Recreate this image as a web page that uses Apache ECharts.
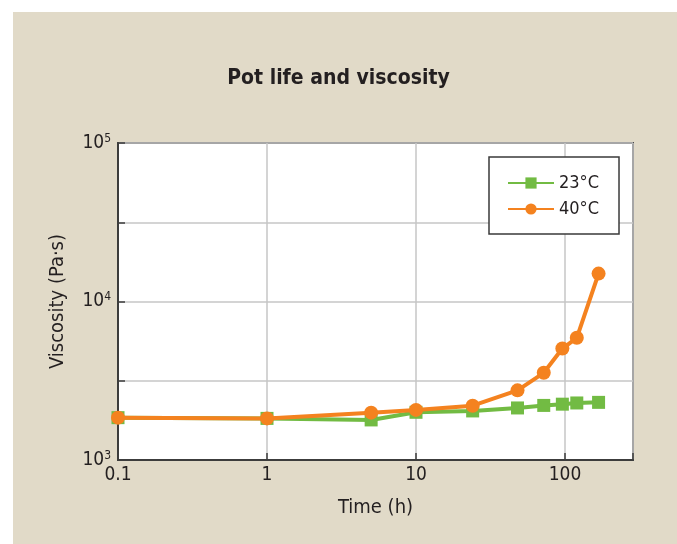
<!DOCTYPE html>
<html>
<head>
<meta charset="utf-8">
<style>
  html, body { margin: 0; padding: 0; background: #ffffff; }
  #chart { width: 677px; height: 544px; }
</style>
<script src="https://cdn.jsdelivr.net/npm/echarts@6/dist/echarts.min.js"></script>
</head>
<body>
<div id="chart"></div>
<script>
// Elapsed time in hours (first reading taken right after mixing)
const timeHours = [0.1, 1, 5, 10, 24, 48, 72, 96, 120, 168];
// Viscosity in Pa·s at each temperature
const visc23 = [1850, 1830, 1790, 2000, 2040, 2130, 2210, 2250, 2290, 2310];
const visc40 = [1850, 1830, 1990, 2070, 2200, 2750, 3550, 5050, 5900, 15000];
const seriesNames = ['23°C', '40°C'];
// Axis labels
const xTickLabels = ['0.1', '1', '10', '100'];
const yTickPowers = [3, 4, 5];

const FONT = '"DejaVu Sans Condensed", "Liberation Sans", sans-serif';
const GREEN = '#72bb43';
const ORANGE = '#f4821f';

function isPow10(v) {
  const e = Math.log10(v);
  return Math.abs(e - Math.round(e)) < 1e-6 ? Math.round(e) : null;
}

const chart = echarts.init(document.getElementById('chart'), null, { renderer: 'canvas' });

chart.setOption({
  backgroundColor: '#ffffff',
  animation: false,
  graphic: [{
    type: 'rect',
    z: -10,
    shape: { x: 13, y: 12, width: 677, height: 544 },
    style: { fill: '#e1dac8' }
  }],
  title: {
    text: 'Pot life and viscosity',
    left: 'center',
    top: 63,
    textStyle: { fontFamily: FONT, fontWeight: 'bold', fontSize: 21, color: '#231f20' }
  },
  legend: {
    orient: 'vertical',
    left: 489,
    top: 157,
    padding: [17, 20, 16, 18],
    itemWidth: 46,
    itemHeight: 14,
    itemGap: 8,
    backgroundColor: '#ffffff',
    borderColor: '#3a3a3a',
    borderWidth: 1.5,
    borderRadius: 0,
    textStyle: { fontFamily: FONT, fontSize: 18, color: '#231f20' },
    data: seriesNames
  },
  grid: {
    left: 118,
    right: 44,
    top: 143,
    bottom: 84,
    show: true,
    backgroundColor: '#ffffff',
    borderColor: '#4a4a4a',
    borderWidth: 2
  },
  xAxis: {
    type: 'log',
    logBase: 10,
    min: 0.1,
    max: 286,
    name: 'Time (h)',
    nameLocation: 'middle',
    nameGap: 38,
    nameTextStyle: { fontFamily: FONT, fontSize: 20, color: '#231f20' },
    axisLine: { show: true, lineStyle: { color: '#3c3c3c', width: 2 } },
    axisTick: { show: true, inside: true, length: 7, lineStyle: { color: '#3c3c3c', width: 1.5 } },
    axisLabel: {
      fontFamily: FONT, fontSize: 19, color: '#231f20', margin: 6,
      formatter: function (v) {
        const e = isPow10(v);
        if (e === null) return '';
        const idx = e + 1;
        return idx >= 0 && idx < xTickLabels.length ? xTickLabels[idx] : '';
      }
    },
    splitLine: { show: true, lineStyle: { color: '#c6c6c6', width: 1.5 } }
  },
  yAxis: {
    type: 'log',
    // half-decade steps give the intermediate grid lines
    logBase: Math.sqrt(10),
    min: 1000,
    max: 100000,
    name: 'Viscosity (Pa·s)',
    nameLocation: 'middle',
    nameGap: 50,
    nameTextStyle: { fontFamily: FONT, fontSize: 20, color: '#231f20' },
    axisLine: { show: true, lineStyle: { color: '#3c3c3c', width: 2 } },
    axisTick: { show: true, inside: true, length: 7, lineStyle: { color: '#3c3c3c', width: 1.5 } },
    axisLabel: {
      fontFamily: FONT, color: '#231f20', margin: 7,
      formatter: function (v) {
        const e = isPow10(v);
        if (e === null || yTickPowers.indexOf(e) < 0) return '';
        return '{b|10}{s|' + e + '}';
      },
      rich: {
        b: { fontFamily: FONT, fontSize: 19, color: '#231f20' },
        s: { fontFamily: FONT, fontSize: 12, color: '#231f20', verticalAlign: 'bottom', padding: [0, 0, 9, 0] }
      }
    },
    splitLine: { show: true, lineStyle: { color: '#c6c6c6', width: 1.5 } }
  },
  series: [
    {
      name: seriesNames[0],
      type: 'line',
      data: timeHours.map((t, i) => [t, visc23[i]]),
      symbol: 'rect',
      symbolSize: 13,
      itemStyle: { color: GREEN },
      lineStyle: { color: GREEN, width: 4 },
      z: 2
    },
    {
      name: seriesNames[1],
      type: 'line',
      data: timeHours.map((t, i) => [t, visc40[i]]),
      symbol: 'circle',
      symbolSize: 14,
      itemStyle: { color: ORANGE },
      lineStyle: { color: ORANGE, width: 4 },
      z: 3
    }
  ]
});
</script>
</body>
</html>
